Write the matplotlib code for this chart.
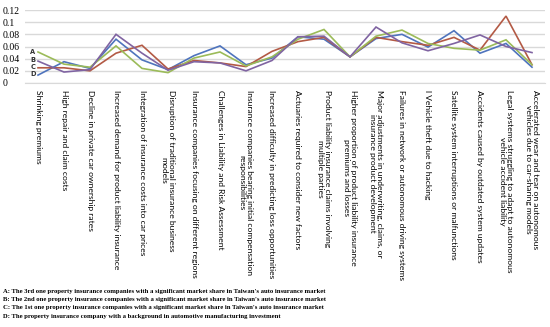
import matplotlib
matplotlib.use("Agg")
import matplotlib.pyplot as plt

categories = [
    "Shrinking premiums",
    "High repair and claim costs",
    "Decline in private car ownership rates",
    "Increased demand for product liability insurance",
    "Integration of insurance costs into car prices",
    "Disruption of traditional insurance business\nmodels",
    "Insurance companies focusing on different regions",
    "Challenges in Liability and Risk Assessment",
    "Insurance companies bearing initial compensation\nresponsibilities",
    "Increased difficulty in predicting loss opportunities",
    "Actuaries required to consider new factors",
    "Product liability insurance claims involving\nmultiple parties",
    "Higher proportion of product liability insurance\npremiums and losses",
    "Major adjustments in underwriting, claims, or\ninsurance product development",
    "Failures in network or autonomous driving systems",
    "l Vehicle theft due to hacking",
    "Satellite system interruptions or malfunctions",
    "Accidents caused by outdated system updates",
    "Legal systems struggling to adapt to autonomous\nvehicle accident liability",
    "Accelerated wear and tear on autonomous\nvehicles due to car-sharing models",
]

series_a = [0.051, 0.031, 0.026, 0.061, 0.024, 0.017, 0.041, 0.051, 0.028, 0.043,
            0.072, 0.088, 0.043, 0.077, 0.087, 0.065, 0.057, 0.054, 0.071, 0.030]
series_b = [0.036, 0.018, 0.022, 0.080, 0.049, 0.021, 0.035, 0.033, 0.020, 0.037,
            0.076, 0.077, 0.043, 0.092, 0.066, 0.053, 0.065, 0.079, 0.060, 0.050]
series_c = [0.025, 0.025, 0.020, 0.049, 0.062, 0.023, 0.037, 0.033, 0.027, 0.052,
            0.068, 0.075, 0.043, 0.075, 0.068, 0.062, 0.075, 0.054, 0.110, 0.030]
series_d = [0.013, 0.035, 0.024, 0.072, 0.038, 0.022, 0.045, 0.061, 0.030, 0.041,
            0.076, 0.072, 0.043, 0.073, 0.080, 0.059, 0.086, 0.049, 0.065, 0.026]

series_names = ["A", "B", "C", "D"]
series_colors = ["#9BBB59", "#8064A2", "#B35A45", "#4F74BD"]

y_ticks = [0, 0.02, 0.04, 0.06, 0.08, 0.1, 0.12]
y_tick_labels = ["0", "0.02", "0.04", "0.06", "0.08", "0.1", "0.12"]

footnotes = [
    "A: The 3rd one property insurance companies with a significant market share in Taiwan's auto insurance market",
    "B: The 2nd one property insurance companies with a significant market share in Taiwan's auto insurance market",
    "C: The 1st one property insurance companies with a significant market share in Taiwan's auto insurance market",
    "D: The property insurance company with a background in automotive manufacturing investment",
]

W, H = 550, 327
fig = plt.figure(figsize=(W / 100, H / 100), dpi=100)
ax = fig.add_axes([25 / W, 1 - 83 / H, 520 / W, 73 / H])

x = list(range(len(categories)))
draw_order = [3, 2, 0, 1]
all_series = [series_a, series_b, series_c, series_d]
for i in draw_order:
    ax.plot(x, all_series[i], color=series_colors[i], linewidth=1.2,
            solid_joinstyle="miter", zorder=3)

ax.set_xlim(-0.5, len(categories) - 0.5)
ax.set_ylim(0, 0.12)
ax.set_yticks(y_ticks)
ax.set_yticklabels(y_tick_labels, fontfamily="Liberation Serif", fontsize=7)
ax.yaxis.set_tick_params(length=0, pad=16)
for lab in ax.get_yticklabels():
    lab.set_horizontalalignment("left")

ax.grid(axis="y", color="#D9D9D9", linewidth=1.0, zorder=0)
ax.set_xticks(x)
ax.set_xticklabels(categories, rotation=270, ha="center", va="top",
                   fontfamily="Lato", fontsize=6.1, linespacing=1.1)
ax.xaxis.set_tick_params(length=0, pad=5)
for side in ["top", "right", "left"]:
    ax.spines[side].set_visible(False)
ax.spines["bottom"].set_color("#D9D9D9")

# series letters next to the line starts
letter_y = [52, 59.5, 67, 74.5]
for name, ly in zip(series_names, letter_y):
    fig.text(33 / W, 1 - ly / H, name, fontsize=4.8, fontweight="bold",
             ha="center", va="center", color="#333333")

note_y = [291, 299.5, 308, 316.5]
for note, ny in zip(footnotes, note_y):
    fig.text(3 / W, 1 - ny / H, note, fontfamily="Liberation Serif",
             fontweight="bold", fontsize=4.8, ha="left", va="center")

fig.savefig("out.png", dpi=100)
